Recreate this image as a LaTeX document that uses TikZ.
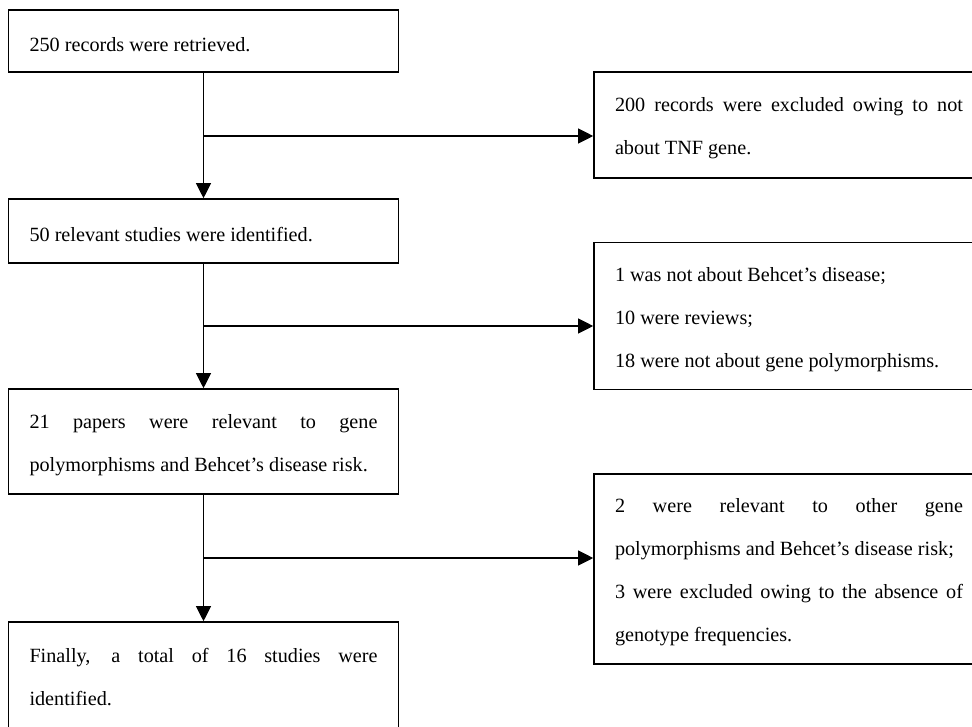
\documentclass[tikz,border=0pt]{standalone}
\usepackage{fontspec}
\setmainfont{Liberation Serif}
\usetikzlibrary{arrows.meta}
\begin{document}
\begin{tikzpicture}[x=1pt,y=-1pt,
  frame/.style={draw=black, line width=1.6pt, minimum width=390pt, inner sep=0pt},
  boxtext/.style={text width=348pt, inner sep=0pt, align=justify, yshift=-3.6pt,
    font={\fontsize{20.2pt}{43pt}\selectfont}},
  flowarrow/.style={line width=1.1pt, -{Triangle[length=15pt,width=15pt]}}]
\clip (0,0) rectangle (972,726);
\fill[white] (0,0) rectangle (972,726);
% left column
\node[frame, minimum height=62pt] (b1) at (203.5,41) {};
\node[boxtext] (b1t) at (b1.center) {250 records were retrieved.};
\node[frame, minimum height=64pt] (b2) at (203.5,231) {};
\node[boxtext] (b2t) at (b2.center) {50 relevant studies were identified.};
\node[frame, minimum height=105pt] (b3) at (203.5,441.5) {};
\node[boxtext] (b3t) at (b3.center) {21 papers were relevant to gene\linebreak polymorphisms and Behcet's disease risk.};
\node[frame, minimum height=110pt] (b4) at (203.5,677) {};
\node[boxtext, yshift=3.8pt] (b4t) at (b4.center) {Finally, a total of 16 studies were\linebreak identified.};
% right column
\node[frame, minimum height=106pt] (r1) at (789,125) {};
\node[boxtext] (r1t) at (r1.center) {200 records were excluded owing to not\linebreak about TNF gene.};
\node[frame, minimum height=147pt] (r2) at (789,316) {};
\node[boxtext] (r2t) at (r2.center) {1 was not about Behcet's disease;\par 10 were reviews;\par 18 were not about gene polymorphisms.};
\node[frame, minimum height=190pt] (r3) at (789,569) {};
\node[boxtext] (r3t) at (r3.center) {2 were relevant to other gene\linebreak polymorphisms and Behcet's disease risk;\par 3 were excluded owing to the absence of\linebreak genotype frequencies.};
% branch points
\coordinate (c1) at (203.5,136);
\coordinate (c2) at (203.5,326);
\coordinate (c3) at (203.5,558);
% connectors
\draw[flowarrow] (b1.south) -- (b2.north);
\draw[flowarrow] (b2.south) -- (b3.north);
\draw[flowarrow] (b3.south) -- (b4.north);
\draw[flowarrow] (c1) -- (c1 -| r1.west);
\draw[flowarrow] (c2) -- (c2 -| r2.west);
\draw[flowarrow] (c3) -- (c3 -| r3.west);
\end{tikzpicture}
\end{document}
